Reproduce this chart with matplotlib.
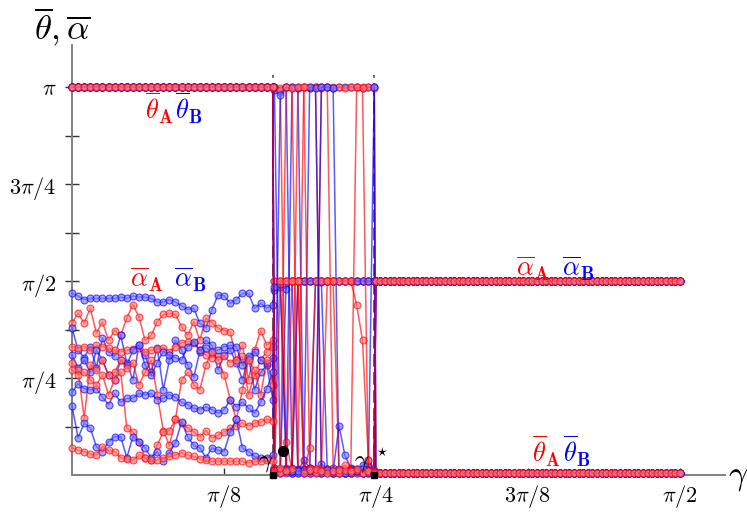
import numpy as np
import matplotlib
matplotlib.use("Agg")
import matplotlib.pyplot as plt

plt.rcParams["mathtext.fontset"] = "cm"
plt.rcParams["font.family"] = ["DejaVu Serif"]

RED = "#ff0000"
BLUE = "#0000ff"
RED_FACE = "#ff7a7a"
BLUE_FACE = "#7a7aff"

# coupling grid: three segments (ordered phase, mixed phase, disordered phase)
gamma_c1 = 0.519
gamma_c2 = 0.781
gamma_left = np.linspace(0.0, gamma_c1, 34)
gamma_mid = np.linspace(0.523, gamma_c2, 18)
gamma_right = np.linspace(0.785, np.pi / 2, 67)

# left segment: theta stays at pi, alpha wanders (five runs per sublattice)
theta_left = np.pi
alpha_A_left = [
    [1.23, 1.31, 1.23, 1.35, 1.15, 1.24, 1.09, 1.17, 1.13, 1.27, 1.38, 1.28, 1.09, 1.13, 1.24, 1.30, 1.31,
     1.30, 1.20, 1.13, 1.24, 1.09, 1.27, 1.23, 1.19, 1.17, 1.16, 0.93, 1.05, 0.77, 1.01, 1.17, 1.05, 1.09],
    [1.04, 1.03, 1.04, 1.01, 1.05, 1.04, 1.03, 1.01, 1.00, 1.01, 1.02, 1.03, 1.00, 1.01, 1.02, 1.03, 1.00,
     1.04, 1.07, 1.08, 1.07, 1.01, 0.97, 0.95, 0.96, 0.96, 0.91, 0.93, 0.96, 0.65, 0.81, 0.93, 1.00, 1.04],
    [0.91, 0.85, 0.46, 0.89, 0.85, 0.93, 0.81, 0.83, 0.93, 0.87, 0.91, 0.73, 0.83, 0.93, 0.65, 0.36, 0.24,
     0.45, 0.77, 0.83, 0.73, 0.69, 0.89, 1.00, 0.93, 0.81, 0.61, 0.45, 0.69, 0.93, 0.85, 0.65, 0.93, 0.73],
    [0.85, 0.81, 0.83, 0.77, 0.73, 0.81, 0.65, 0.77, 0.83, 0.38, 0.35, 0.27, 0.14, 0.12, 0.24, 0.35, 0.36,
     0.45, 0.42, 0.38, 0.35, 0.31, 0.36, 0.30, 0.32, 0.35, 0.38, 0.40, 0.42, 0.40, 0.42, 0.43, 0.45, 0.44],
    [0.22, 0.20, 0.19, 0.17, 0.16, 0.23, 0.20, 0.19, 0.14, 0.13, 0.12, 0.16, 0.14, 0.12, 0.12, 0.14, 0.15,
     0.16, 0.18, 0.16, 0.15, 0.13, 0.12, 0.11, 0.11, 0.11, 0.11, 0.11, 0.11, 0.10, 0.11, 0.11, 0.12, 0.11],
]
alpha_B_left = [
    [1.47, 1.45, 1.42, 1.43, 1.43, 1.43, 1.43, 1.43, 1.44, 1.43, 1.45, 1.44, 1.44, 1.43, 1.40, 1.40, 1.42,
     1.40, 1.37, 1.34, 1.35, 1.23, 1.19, 1.34, 1.46, 1.45, 1.39, 1.42, 1.47, 1.47, 1.35, 1.39, 1.35, 1.38],
    [1.19, 1.01, 0.95, 1.04, 0.87, 1.11, 1.00, 0.96, 1.13, 0.91, 0.77, 1.05, 0.97, 0.83, 1.03, 0.69, 0.93,
     1.09, 1.01, 0.89, 0.79, 1.00, 1.09, 1.05, 0.85, 0.97, 1.01, 0.91, 0.77, 0.95, 0.69, 0.83, 0.89, 0.61],
    [0.97, 0.87, 0.93, 0.83, 1.01, 0.93, 0.81, 0.77, 0.93, 0.89, 1.01, 1.05, 0.89, 0.81, 0.91, 1.00, 0.97,
     0.95, 0.93, 1.04, 1.08, 1.01, 1.03, 1.00, 1.01, 1.04, 1.05, 1.04, 0.89, 0.96, 1.00, 0.93, 0.91, 0.95],
    [0.67, 0.74, 0.70, 0.69, 0.70, 0.63, 0.57, 0.66, 0.59, 0.62, 0.62, 0.66, 0.65, 0.66, 0.61, 0.62, 0.65,
     0.63, 0.59, 0.57, 0.54, 0.53, 0.55, 0.53, 0.50, 0.53, 0.61, 0.55, 0.59, 0.54, 0.50, 0.59, 0.70, 0.83],
    [0.56, 0.30, 0.42, 0.38, 0.23, 0.19, 0.27, 0.31, 0.31, 0.14, 0.31, 0.27, 0.22, 0.14, 0.19, 0.11, 0.18,
     0.26, 0.43, 0.31, 0.24, 0.22, 0.14, 0.22, 0.20, 0.19, 0.35, 0.45, 0.22, 0.19, 0.15, 0.14, 0.14, 0.16],
]

# mixed segment: runs flip between the two branches
theta_A_mid = [
    [3.14, 3.13, 3.14, 3.14, 3.13, 3.14, 3.14, 3.14, 3.13, 3.14, 3.14, 3.14, 3.13, 3.14, 3.14, 3.14, 3.14, 3.13],
    [0.04, 0.02, 0.05, 0.03, 0.02, 0.04, 0.03, 0.05, 0.02, 0.03, 0.02, 0.04, 0.03, 0.02, 0.03, 0.02, 0.04, 0.02],
    [3.14, 3.12, 0.03, 0.02, 0.04, 3.14, 3.13, 3.14, 0.03, 0.05, 0.02, 0.03, 0.02, 0.04, 0.02, 0.03, 0.02, 0.03],
    [0.06, 0.03, 3.14, 3.13, 0.03, 0.05, 0.02, 0.03, 3.14, 3.14, 0.04, 0.02, 0.03, 0.02, 0.03, 0.02, 0.03, 0.02],
    [0.03, 0.02, 0.04, 0.05, 3.14, 3.14, 0.05, 0.02, 0.04, 0.02, 0.03, 0.02, 0.04, 0.03, 3.14, 3.13, 0.03, 0.02],
]
theta_B_mid = [
    [3.12, 3.10, 3.14, 3.13, 3.14, 3.14, 3.13, 3.14, 3.14, 3.14, 3.13, 3.14, 3.14, 3.14, 3.14, 3.13, 3.14, 3.14],
    [0.02, 0.04, 0.03, 0.02, 0.05, 0.02, 0.03, 0.04, 0.02, 0.03, 0.02, 0.03, 0.02, 0.04, 0.02, 0.03, 0.02, 0.02],
    [3.14, 0.03, 0.02, 3.14, 3.13, 0.04, 0.02, 0.03, 0.03, 0.05, 0.02, 0.03, 0.02, 0.04, 0.03, 0.02, 0.03, 3.14],
    [0.05, 3.08, 3.14, 0.02, 0.04, 0.02, 3.14, 3.13, 0.03, 0.02, 0.02, 0.03, 0.02, 0.02, 0.03, 0.02, 0.04, 0.02],
    [0.03, 0.04, 0.04, 0.03, 0.02, 0.03, 0.03, 0.02, 3.14, 3.14, 3.13, 0.02, 0.03, 0.02, 0.04, 0.02, 0.03, 0.02],
]
alpha_A_mid = [
    [1.57, 1.57, 1.57, 1.57, 1.57, 1.57, 1.57, 1.57, 1.57, 1.57, 1.57, 1.57, 1.57, 1.57, 1.57, 1.57, 1.57, 1.57],
    [0.05, 0.03, 0.06, 0.04, 0.03, 0.05, 0.02, 0.04, 0.03, 0.05, 0.03, 0.02, 0.04, 0.03, 0.05, 0.03, 0.04, 0.02],
    [1.57, 1.57, 0.27, 0.04, 1.57, 1.57, 1.57, 1.57, 1.57, 1.57, 1.57, 1.57, 1.57, 1.57, 1.57, 1.57, 1.57, 1.57],
    [0.04, 1.57, 1.57, 1.57, 1.57, 0.03, 0.22, 1.57, 1.57, 1.57, 1.57, 1.57, 1.57, 1.57, 1.38, 1.09, 0.12, 0.04],
    [0.02, 0.06, 0.03, 1.57, 1.57, 0.02, 0.04, 0.05, 0.03, 1.57, 1.57, 0.04, 0.08, 0.03, 0.05, 0.02, 0.03, 0.02],
]
alpha_B_mid = [
    [1.50, 1.52, 1.51, 1.57, 1.57, 1.57, 1.57, 1.57, 1.57, 1.57, 1.57, 1.57, 1.57, 1.57, 1.57, 1.57, 1.57, 1.57],
    [0.03, 0.05, 0.04, 0.06, 0.03, 0.12, 0.06, 0.04, 0.09, 0.05, 0.03, 0.40, 0.16, 0.06, 0.05, 0.03, 0.08, 0.02],
    [0.06, 0.03, 1.57, 1.57, 0.04, 0.05, 0.03, 1.57, 1.56, 0.03, 0.06, 0.04, 0.03, 0.05, 0.04, 0.08, 0.12, 0.03],
    [1.52, 1.55, 0.04, 0.03, 1.57, 1.57, 1.57, 1.57, 1.57, 1.57, 1.57, 1.57, 1.57, 1.57, 1.57, 1.57, 1.57, 1.57],
    [0.04, 0.02, 0.05, 0.03, 0.03, 0.04, 0.06, 0.03, 0.02, 0.04, 0.03, 0.05, 0.02, 0.04, 0.03, 0.05, 0.02, 0.03],
]

# right segment: theta collapses to zero, alpha locks at pi/2
theta_right = 0.015
alpha_right = np.pi / 2

x_ticks = [np.pi / 8, np.pi / 4, 3 * np.pi / 8, np.pi / 2]
x_tick_labels = [r"$\pi/8$", r"$\pi/4$", r"$3\pi/8$", r"$\pi/2$"]
y_ticks = [k * np.pi / 8 for k in range(1, 9)]
y_tick_labels = ["", r"$\pi/4$", "", r"$\pi/2$", "", r"$3\pi/4$", "", r"$\pi$"]

W, H = 747, 512
fig = plt.figure(figsize=(W / 100, H / 100), dpi=100)
x0, x1, yb, yt = 72, 725, 475, 45
ax = fig.add_axes([x0 / W, 1 - yb / H, (x1 - x0) / W, (yb - yt) / H])
ax.set_xlim(0, (x1 - x0) / 387.0)
ax.set_ylim(0, (yb - yt) / 123.5)

gamma_all = np.concatenate([gamma_left, gamma_mid, gamma_right])


def full_run(left, mid, right):
    left = np.broadcast_to(np.asarray(left, float), gamma_left.shape)
    right = np.broadcast_to(np.asarray(right, float), gamma_right.shape)
    return np.concatenate([left, np.asarray(mid, float), right])


def run_style(color, face):
    return dict(color=color, lw=1.1, marker="o", ms=5.0, mew=0.8,
                mfc=face, mec=color, alpha=0.65, clip_on=False, zorder=3)


# interleave the two sublattices so overlapping runs blend to purple
for k in range(5):
    for color, face, th_mid, al_left, al_mid in [
        (BLUE, BLUE_FACE, theta_B_mid, alpha_B_left, alpha_B_mid),
        (RED, RED_FACE, theta_A_mid, alpha_A_left, alpha_A_mid),
    ]:
        st = run_style(color, face)
        ax.plot(gamma_all, full_run(theta_left, th_mid[k], theta_right), **st)
        ax.plot(gamma_all, full_run(al_left[k], al_mid[k], alpha_right), **st)

# transition markers
for gc in (gamma_c1, gamma_c2):
    ax.plot([gc, gc], [0, 3.24], color="#555555", lw=1.3, ls=(0, (7, 3)), zorder=2)
ax.plot([gamma_c1, gamma_c2], [0, 0], ls="none", marker="s", ms=4, color="black",
        clip_on=False, zorder=6)
ax.plot([0.544], [0.195], ls="none", marker="o", ms=7, color="black", zorder=6)
ax.text(0.500, 0.10, r"$\gamma$", fontsize=18, ha="center", va="center", zorder=5)
ax.text(0.748, 0.10, r"$\gamma$", fontsize=18, ha="center", va="center", zorder=5)
ax.text(0.800, 0.19, r"$\star$", fontsize=11, ha="center", va="center", zorder=5)

# axes styling
for side in ("top", "right"):
    ax.spines[side].set_visible(False)
for side in ("left", "bottom"):
    ax.spines[side].set_color("#808080")
    ax.spines[side].set_linewidth(1.4)
ax.set_xticks(x_ticks)
ax.set_xticklabels(x_tick_labels, fontsize=16)
ax.set_yticks(y_ticks)
ax.set_yticklabels(y_tick_labels, fontsize=16)
ax.tick_params(axis="y", direction="inout", length=10, width=1.0, color="#333333", pad=6)
ax.tick_params(axis="x", direction="in", length=5, width=1.0, color="#333333", pad=6)

# curve labels
lab = dict(fontsize=19, ha="center", va="center", zorder=7)
ax.text(0.225, 2.97, r"$\overline{\theta}_\mathbf{A}$", color=RED, **lab)
ax.text(0.303, 2.97, r"$\overline{\theta}_\mathbf{B}$", color=BLUE, **lab)
ax.text(0.193, 1.58, r"$\overline{\alpha}_\mathbf{A}$", color=RED, **lab)
ax.text(0.305, 1.58, r"$\overline{\alpha}_\mathbf{B}$", color=BLUE, **lab)
ax.text(1.191, 1.67, r"$\overline{\alpha}_\mathbf{A}$", color=RED, **lab)
ax.text(1.307, 1.67, r"$\overline{\alpha}_\mathbf{B}$", color=BLUE, **lab)
ax.text(1.225, 0.19, r"$\overline{\theta}_\mathbf{A}$", color=RED, **lab)
ax.text(1.305, 0.19, r"$\overline{\theta}_\mathbf{B}$", color=BLUE, **lab)

fig.text(62 / W, 1 - 27 / H, r"$\overline{\theta},\overline{\alpha}$", fontsize=25,
         ha="center", va="center")
fig.text(738 / W, 1 - 477 / H, r"$\gamma$", fontsize=24, ha="center", va="center")

fig.savefig("out.png", dpi=100)
